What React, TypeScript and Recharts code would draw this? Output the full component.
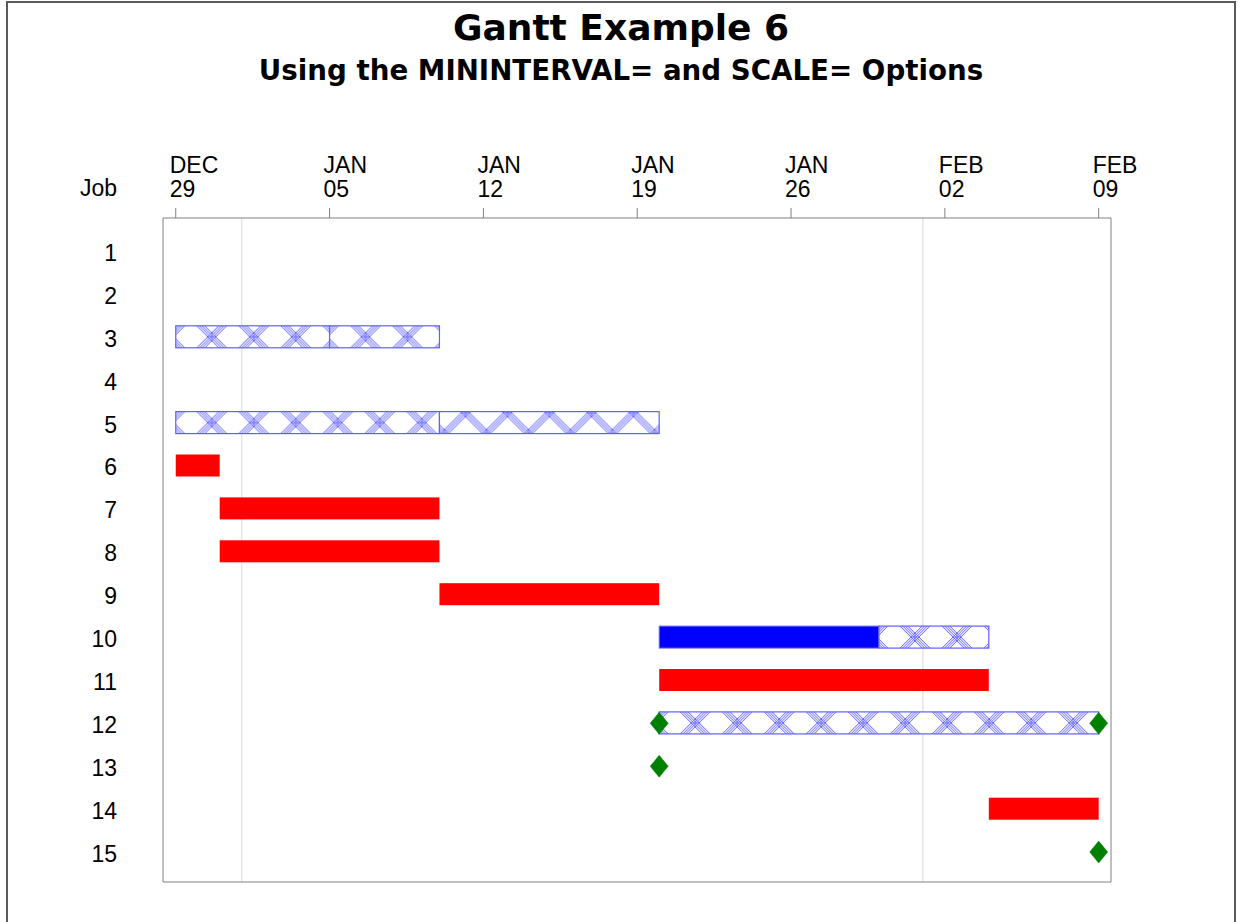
import React from 'react';
import { ComposedChart, Bar, Scatter, XAxis, YAxis, CartesianGrid } from 'recharts';

type Seg = [number, number] | null;

// Days are counted from Monday, DEC 29.
const jobs: string[] = ['1', '2', '3', '4', '5', '6', '7', '8', '9', '10', '11', '12', '13', '14', '15'];
const redBars: Seg[] = [null, null, null, null, null, [0, 2], [2, 12], [2, 12], [12, 22], null, [22, 37], null, null, [37, 42], null];
const blueBars: Seg[] = [null, null, null, null, null, null, null, null, null, [22, 32], null, null, null, null, null];
const hatchFirst: Seg[] = [null, null, [0, 7], null, [0, 12], null, null, null, null, [32, 37], null, [22, 42], null, null, null];
const hatchSecond: Seg[] = [null, null, [7, 12], null, [12, 22], null, null, null, null, null, null, null, null, null, null];
const milestoneFirst: (number | null)[] = [null, null, null, null, null, null, null, null, null, null, null, 22, 22, null, null];
const milestoneSecond: (number | null)[] = [null, null, null, null, null, null, null, null, null, null, null, 42, null, null, 42];

const tickDays: number[] = [0, 7, 14, 21, 28, 35, 42];
const tickMonths: string[] = ['DEC', 'JAN', 'JAN', 'JAN', 'JAN', 'FEB', 'FEB'];
const tickDates: string[] = ['29', '05', '12', '19', '26', '02', '09'];
const monthStartDays: number[] = [3, 34];
const dayDomain: [number, number] = [-0.58, 42.56];

const data = jobs.map((job, i) => ({
  job,
  red: redBars[i],
  blue: blueBars[i],
  hatchA: hatchFirst[i],
  hatchB: hatchSecond[i],
  msA: milestoneFirst[i],
  msB: milestoneSecond[i],
}));

// Styling
const FONT = '"Liberation Sans", Arial, sans-serif';
const TITLE_FONT = '"DejaVu Sans", Verdana, sans-serif';
const HATCH_LINE = '#5656ff';
const HATCH_BORDER = '#6060ff';
const HATCH_TILE = 42;
const HATCH_OFFSETS = [-3.9, -1.3, 1.3, 3.9];
// segments whose cross-hatch lattice is phase shifted (zig-zag look)
const hatchZigzag: string[] = ['hatchB:5'];

const XTick = (props: any) => {
  const { x, y, payload } = props;
  const i = tickDays.indexOf(payload.value);
  return (
    <text x={x - 6} y={y - 34.7} fontFamily={FONT} fontSize={23} fill="#000" textAnchor="start">
      <tspan x={x - 6} y={y - 34.7}>{tickMonths[i]}</tspan>
      <tspan x={x - 6} y={y - 11.5}>{tickDates[i]}</tspan>
    </text>
  );
};

const YTick = (props: any) => {
  const { x, y, payload } = props;
  return (
    <text x={x} y={y + 9.5} fontFamily={FONT} fontSize={23} fill="#000" textAnchor="end">
      {payload.value}
    </text>
  );
};

const JobLabel = (props: any) => {
  const vb = props.viewBox || { x: 0, y: 218, width: 163 };
  return (
    <text x={vb.x + vb.width - 46} y={vb.y - 22} fontFamily={FONT} fontSize={23} fill="#000" textAnchor="end">
      Job
    </text>
  );
};

const solidShape = (key: string, fill: string, stroke?: string) => (props: any) => {
  const { x, y, width, height, payload } = props;
  if (!payload || payload[key] == null || !(width > 0)) return <g />;
  return <rect x={x} y={y} width={width} height={height} fill={fill} stroke={stroke || 'none'} strokeWidth={stroke ? 1 : 0} />;
};

const hatchShape = (key: string) => (props: any) => {
  const { x, y, width, height, payload, index } = props;
  if (!payload || payload[key] == null || !(width > 0)) return <g />;
  const id = `hatch-${key}-${index}`;
  const P = HATCH_TILE;
  const zig = hatchZigzag.includes(`${key}:${payload.job}`);
  const px = zig ? x + 5 : x + 36 - P / 2;
  const py = zig ? y + height : y + height / 2 - P / 2;
  const lines: React.ReactNode[] = [];
  HATCH_OFFSETS.forEach((d, j) => {
    for (let k = -1; k <= 2; k++) {
      lines.push(
        <line key={`a${j}_${k}`} x1={k * P + d} y1={0} x2={k * P + d + P} y2={P} stroke={HATCH_LINE} strokeWidth={1} />
      );
      lines.push(
        <line key={`b${j}_${k}`} x1={k * P + d} y1={0} x2={k * P + d - P} y2={P} stroke={HATCH_LINE} strokeWidth={1} />
      );
    }
  });
  return (
    <g>
      <defs>
        <pattern id={id} patternUnits="userSpaceOnUse" x={px} y={py} width={P} height={P}>
          <rect x={0} y={0} width={P} height={P} fill="#fff" />
          {lines}
        </pattern>
      </defs>
      <rect x={x} y={y} width={width} height={height} fill={`url(#${id})`} stroke={HATCH_BORDER} strokeWidth={1.2} />
    </g>
  );
};

const Diamond = (props: any) => {
  const { cx, cy } = props;
  if (cx == null || cy == null || Number.isNaN(cx)) return <g />;
  const pts = `${cx},${cy - 11} ${cx + 9},${cy} ${cx},${cy + 11} ${cx - 9},${cy}`;
  return <polygon points={pts} fill="#008000" stroke="#008000" strokeWidth={0.5} />;
};

export default function App() {
  return (
    <div>
      <div
        style={{
          position: 'absolute',
          left: 6,
          top: 1,
          width: 1230,
          height: 960,
          boxSizing: 'border-box',
          borderLeft: '2px solid #5a5a5a',
          borderTop: '2px solid #5a5a5a',
          borderRight: '2px solid #5a5a5a',
        }}
      />
      <svg width={1238} height={100} style={{ position: 'absolute', left: 0, top: 0 }}>
        <text x={621} y={40} textAnchor="middle" fontFamily={TITLE_FONT} fontWeight="bold" fontSize={36} fill="#000">
          Gantt Example 6
        </text>
        <text x={621} y={80} textAnchor="middle" fontFamily={TITLE_FONT} fontWeight="bold" fontSize={27.7} fill="#000">
          Using the MININTERVAL= and SCALE= Options
        </text>
      </svg>
      <div style={{ position: 'absolute', left: 0, top: 0 }}>
        <ComposedChart
          width={1238}
          height={922}
          data={data}
          layout="vertical"
          margin={{ top: 118, right: 127, bottom: 40, left: 0 }}
          barSize={22}
          barGap={-22}
        >
          <CartesianGrid horizontal={false} verticalValues={monthStartDays} stroke="#e1e5ec" strokeWidth={1.5} />
          <CartesianGrid
            stroke="#808080"
            strokeWidth={1}
            verticalCoordinatesGenerator={({ offset }: any) => [offset.left, offset.left + offset.width]}
            horizontalCoordinatesGenerator={({ offset }: any) => [offset.top, offset.top + offset.height]}
          />
          <XAxis
            type="number"
            orientation="top"
            domain={dayDomain}
            allowDataOverflow
            ticks={tickDays}
            interval={0}
            height={100}
            axisLine={false}
            tickLine={{ stroke: '#808080' }}
            tickSize={10}
            tickMargin={0}
            tick={<XTick />}
          />
          <YAxis
            type="category"
            dataKey="job"
            width={163}
            allowDuplicatedCategory={false}
            padding={{ top: 12, bottom: 8.5 }}
            axisLine={false}
            tickLine={false}
            tickSize={0}
            tickMargin={46}
            interval={0}
            tick={<YTick />}
            label={<JobLabel />}
          />
          <Bar dataKey="red" shape={solidShape('red', '#ff0000')} isAnimationActive={false} />
          <Bar dataKey="blue" shape={solidShape('blue', '#0000ff', '#6b6bff')} isAnimationActive={false} />
          <Bar dataKey="hatchA" shape={hatchShape('hatchA')} isAnimationActive={false} />
          <Bar dataKey="hatchB" shape={hatchShape('hatchB')} isAnimationActive={false} />
          <Scatter dataKey="msA" shape={<Diamond />} isAnimationActive={false} />
          <Scatter dataKey="msB" shape={<Diamond />} isAnimationActive={false} />
        </ComposedChart>
      </div>
    </div>
  );
}
